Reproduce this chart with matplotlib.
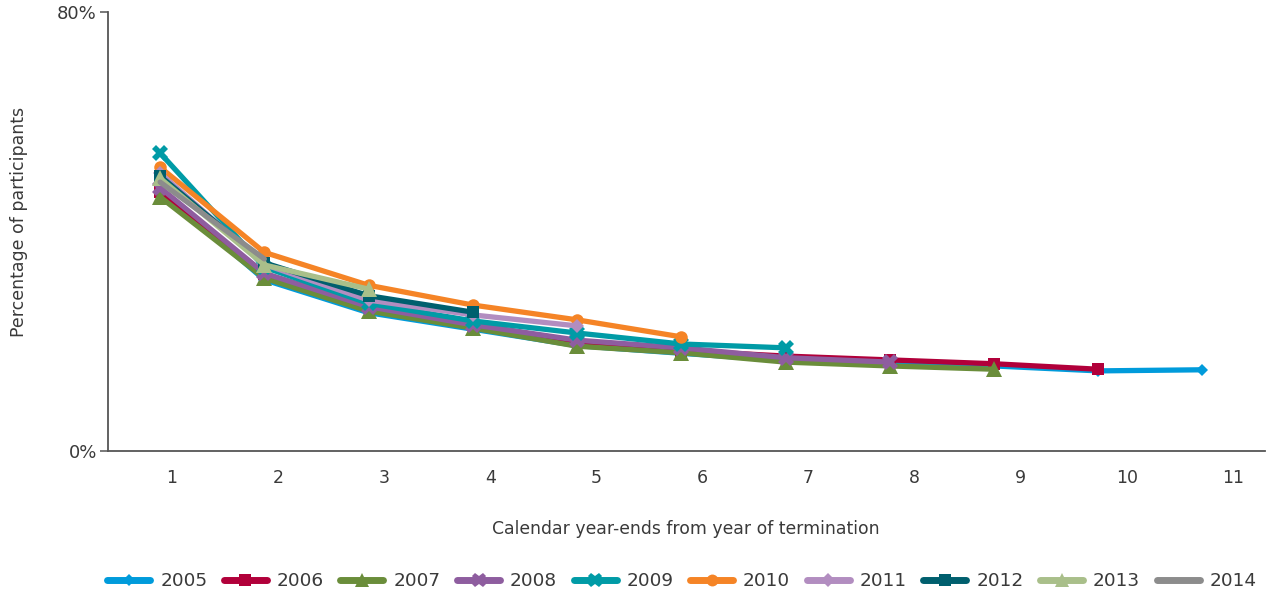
import matplotlib
matplotlib.use("Agg")
import matplotlib.pyplot as plt
from matplotlib.lines import Line2D

plt.rcParams['font.family'] = ['DejaVu Sans']

years_from_term = [1, 2, 3, 4, 5, 6, 7, 8, 9, 10, 11]
tick_labels = [str(v) for v in years_from_term]
series_names = ["2005", "2006", "2007", "2008", "2009", "2010", "2011", "2012", "2013", "2014"]

v2005 = [47.5, 31.2, 25.2, 22.2, 19.2, 17.8, 16.5, 15.8, 15.5, 14.6, 14.8]
v2006 = [47.2, 32.2, 26.6, 23.0, 20.0, 18.3, 17.3, 16.6, 15.9, 14.9]
v2007 = [46.3, 31.5, 25.5, 22.4, 19.1, 17.9, 16.2, 15.5, 14.9]
v2008 = [48.0, 32.4, 26.3, 23.0, 20.2, 18.8, 17.0, 16.2]
v2009 = [54.3, 33.5, 26.9, 23.7, 21.5, 19.5, 18.8]
v2010 = [51.7, 36.2, 30.2, 26.6, 23.9, 20.8]
v2011 = [50.6, 34.0, 27.5, 24.8, 22.8]
v2012 = [50.1, 34.3, 28.3, 25.3]
v2013 = [49.7, 33.9, 29.5]
v2014 = [49.0, 35.0]
all_values = [v2005, v2006, v2007, v2008, v2009, v2010, v2011, v2012, v2013, v2014]

colors = ["#009BDB", "#B1003A", "#6A8D3A", "#8E5D9F", "#009BA6",
          "#F58426", "#B28DC0", "#005F6E", "#A9BF8A", "#8C8C8C"]
markers = ["D", "s", "^", "X", "X", "o", "D", "s", "^", None]
msizes = [6, 9, 11, 11, 11, 9, 7, 9, 11, 0]

TXT = "#3a3a3a"
W, H = 1266, 596
fig = plt.figure(figsize=(W / 100, H / 100), dpi=100)
ax_l, ax_r, ax_b, ax_t = 108 / W, 1265 / W, 1 - 451 / H, 1 - 12 / H
ax = fig.add_axes([ax_l, ax_b, ax_r - ax_l, ax_t - ax_b])

for name, vals, c, m, ms in zip(series_names, all_values, colors, markers, msizes):
    ax.plot(years_from_term[:len(vals)], vals, color=c, lw=3.8, marker=m,
            markersize=ms, markeredgewidth=0, label=name, solid_capstyle='round',
            solid_joinstyle='round')

ax.set_xlim(0.5, 11.6)
ax.set_ylim(0, 80)
ax.set_yticks([0, 80])
ax.set_yticklabels(["0%", "80%"])
ax.set_xticks([])
for s in ["top", "right"]:
    ax.spines[s].set_visible(False)
for s in ["left", "bottom"]:
    ax.spines[s].set_color("#555555")
    ax.spines[s].set_linewidth(1.3)
ax.tick_params(axis='y', length=6, width=1.1, color="#555555", labelsize=13,
               labelcolor=TXT, pad=2)

fig.text(19 / W, 1 - 222 / H, "Percentage of participants", rotation=90,
         ha='center', va='center', fontsize=12.5, color=TXT)
fig.text(686 / W, 1 - 529 / H, "Calendar year-ends from year of termination",
         ha='center', va='center', fontsize=12.4, color=TXT)

# category labels on a twin axis (evenly spaced labels)
ax2 = ax.twiny()
lab_left = 1 - 64 / 106.1
lab_right = 1 + (1265 - 172) / 106.1
ax2.set_xlim(lab_left, lab_right)
ax2.xaxis.set_ticks_position('bottom')
ax2.set_xticks(years_from_term)
ax2.set_xticklabels(tick_labels)
ax2.tick_params(axis='x', length=0, labelsize=12.5, labelcolor=TXT, pad=13)
for s in ax2.spines.values():
    s.set_visible(False)

handles = [Line2D([0], [0], color=c, lw=5, marker=m, markersize=ms * 0.95,
                  markeredgewidth=0, solid_capstyle='round')
           for c, m, ms in zip(colors, markers, msizes)]
fs_leg = 13.3
px_per_em = fs_leg * 100 / 72
fig.legend(handles, series_names, loc='center', bbox_to_anchor=(682 / W, 1 - 581 / H),
           ncol=10, frameon=False, fontsize=fs_leg, handlelength=43 / px_per_em,
           handletextpad=10 / px_per_em, columnspacing=16.5 / px_per_em,
           labelcolor=TXT, borderpad=0, borderaxespad=0)

fig.savefig("out.png", dpi=100)
